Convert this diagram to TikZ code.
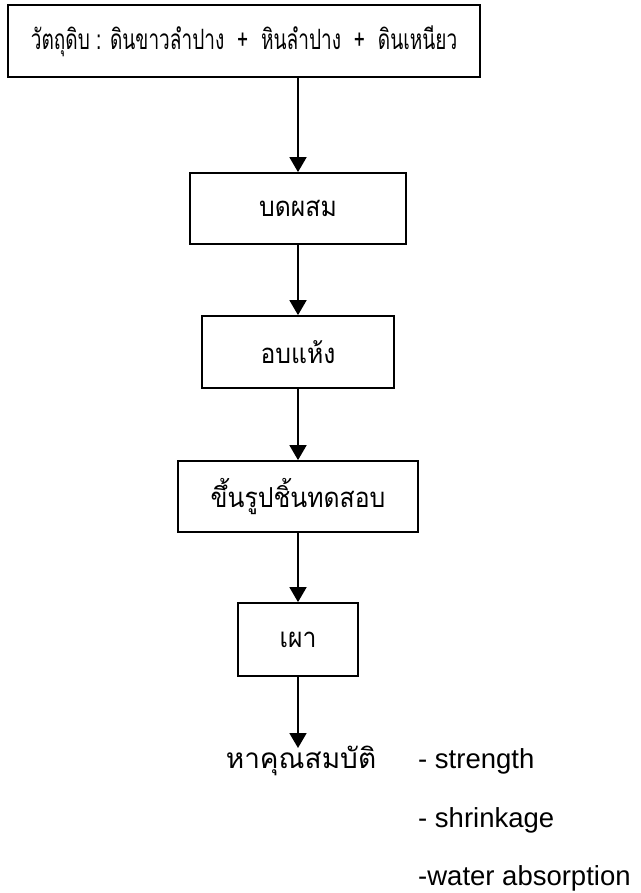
\documentclass[tikz,border=0pt]{standalone}
\usepackage{fontspec}
\setmainfont{Liberation Sans}
\newfontfamily\thaifont[Script=Thai]{Loma}
\newfontfamily\thaibox[Script=Thai,FakeStretch=0.9]{Loma}
\newfontfamily\thainarrow[Script=Thai,FakeStretch=0.68]{Loma}
\usetikzlibrary{arrows.meta}
\begin{document}
\begin{tikzpicture}[x=1pt,y=-1pt,
  stepbox/.style={draw, line width=1.8pt, inner sep=0pt,
    font=\thaibox\fontsize{27.5}{31}\selectfont},
  flow/.style={line width=1.8pt, -{Triangle[width=17pt,length=15pt]}},
  thaitext/.style={inner sep=0pt, anchor=base, font=\thaifont\fontsize{28}{32}\selectfont},
  prop/.style={inner sep=0pt, anchor=base west, font=\fontsize{27.5}{32}\selectfont}]
\useasboundingbox (0,0) rectangle (640,893);

% process steps
\node[stepbox, font=\thainarrow\fontsize{28}{32}\selectfont,
      minimum width=472pt, minimum height=72pt] (raw) at (244,41)
  {วัตถุดิบ : ดินขาวลำปาง\ \ +\ \ หินลำปาง\ \ +\ \ ดินเหนียว};
\node[stepbox, minimum width=216pt, minimum height=71pt] (mix) at (298,208.5) {บดผสม};
\node[stepbox, minimum width=192pt, minimum height=72pt] (dry) at (298,352) {อบแห้ง};
\node[stepbox, minimum width=240pt, minimum height=71pt] (form) at (298,496.5) {ขึ้นรูปชิ้นทดสอบ};
\node[stepbox, minimum width=120pt, minimum height=73pt] (fire) at (298,639.5) {เผา};

% result and measured properties
\node[thaitext] (test) at (301,768) {หาคุณสมบัติ};
\coordinate (testtop) at (298,748);
\node[prop] (p1) at (418,768) {- strength};
\node[prop] (p2) at (418,827) {- shrinkage};
\node[prop] (p3) at (418,885) {-water absorption};

% connectors
\draw[flow] (raw.south -| mix.north) -- (mix.north);
\draw[flow] (mix.south) -- (dry.north);
\draw[flow] (dry.south) -- (form.north);
\draw[flow] (form.south) -- (fire.north);
\draw[flow] (fire.south) -- (testtop);
\end{tikzpicture}
\end{document}
